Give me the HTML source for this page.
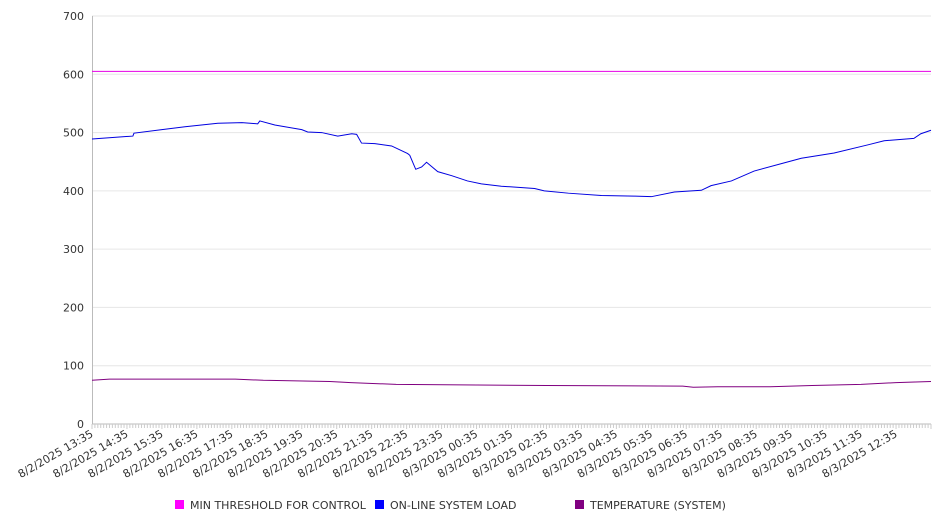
<!DOCTYPE html>
<html><head><meta charset="utf-8"><style>
body{margin:0;background:#fff;font-family:"DejaVu Sans","Liberation Sans",sans-serif;}
svg text{font-family:"DejaVu Sans","Liberation Sans",sans-serif;fill:#333;}
</style></head><body>
<svg id="chart" width="946" height="526" xmlns="http://www.w3.org/2000/svg"></svg>
<script>
const yTicks=[0,100,200,300,400,500,600,700];
const xLabels=["8/2/2025 13:35","8/2/2025 14:35","8/2/2025 15:35","8/2/2025 16:35","8/2/2025 17:35","8/2/2025 18:35","8/2/2025 19:35","8/2/2025 20:35","8/2/2025 21:35","8/2/2025 22:35","8/2/2025 23:35","8/3/2025 00:35","8/3/2025 01:35","8/3/2025 02:35","8/3/2025 03:35","8/3/2025 04:35","8/3/2025 05:35","8/3/2025 06:35","8/3/2025 07:35","8/3/2025 08:35","8/3/2025 09:35","8/3/2025 10:35","8/3/2025 11:35","8/3/2025 12:35"];
const loadHours=[0,1.17,1.2,2.0,2.66,3.6,4.29,4.74,4.8,5.23,6.0,6.17,6.57,7.03,7.43,7.57,7.71,8.09,8.57,9.03,9.09,9.26,9.43,9.57,9.89,10.29,10.74,11.14,11.71,11.71,12.66,12.94,13.63,14.57,15.51,16.0,16.66,17.43,17.71,18.29,18.94,19.8,20.29,21.23,22.2,22.66,23.51,23.71,24.0];
const loadValues=[489,494,499,505,510,516,517,515,520,513,505,501,500,494,498,497,482,481,477,464,461,437,441,449,433,426,417,412,408,408,404,400,396,392,391,390,398,401,409,417,434,448,456,465,479,486,490,498,504];
const tempHours=[0,0.5,4.1,4.9,6.8,7.4,8.7,13.0,16.9,17.2,17.9,19.4,20.6,22.0,23.0,24.0];
const tempValues=[75,77,77,75,73,71,68,66,65,63,64,64,66,68,71,73];
const thresholdValues=[605,605];
const thresholdHours=[0,24];

const svg=document.getElementById('chart');
const NS='http://www.w3.org/2000/svg';
const X0=92,X1=931,Y0=424,Y1=16;
const xs=h=>X0+h/24*(X1-X0);
const ys=v=>Y0-v/700*(Y0-Y1);
function mk(t,a){const e=document.createElementNS(NS,t);for(const k in a)e.setAttribute(k,a[k]);svg.appendChild(e);return e;}

yTicks.forEach(v=>{
  const g=mk('line',{x1:X0,x2:X1,y1:ys(v),y2:ys(v),stroke:v===0?'#bbb':'#e6e6e6','stroke-width':1});
  
  
  const t=mk('text',{x:84,y:ys(v)+4,'text-anchor':'end','font-size':11});
  t.textContent=v;
  
  
});
const ax=mk('line',{x1:X0+0.5,x2:X0+0.5,y1:Y1,y2:Y0,stroke:'#bbb'});


for(let m=0;m<=24*60;m+=5){
  const tk=mk('line',{x1:xs(m/60),x2:xs(m/60),y1:Y0,y2:Y0+(m%60===0?5:4),stroke:'#ccc'});
  
  
}
xLabels.forEach((l,i)=>{
  const x=xs(i)+2,y=Y0+12;
  const t=mk('text',{x:x,y:y,'text-anchor':'end','font-size':11,transform:`rotate(-30 ${x} ${y})`});
  t.textContent=l;
  
  
});
function series(h,v,color,name){
  const p=mk('polyline',{points:h.map((hh,i)=>xs(hh)+','+ys(v[i])).join(' '),fill:'none',stroke:color,'stroke-width':1});
  
  
}
series(thresholdHours,thresholdValues,'#e600e6','min-threshold-line');
series(tempHours,tempValues,'#800080','temperature-line');
series(loadHours,loadValues,'#0000e0','online-system-load-line');

const legend=[["MIN THRESHOLD FOR CONTROL",'#ff00ff',175],["ON-LINE SYSTEM LOAD",'#0000ff',375],["TEMPERATURE (SYSTEM)",'#800080',575]];
legend.forEach(([txt,c,x])=>{
  const r=mk('rect',{x:x,y:500,width:9,height:9,fill:c});
  
  
  const t=mk('text',{x:x+15,y:509,'font-size':11});
  t.textContent=txt;
  
  
});
</script>
</body></html>
